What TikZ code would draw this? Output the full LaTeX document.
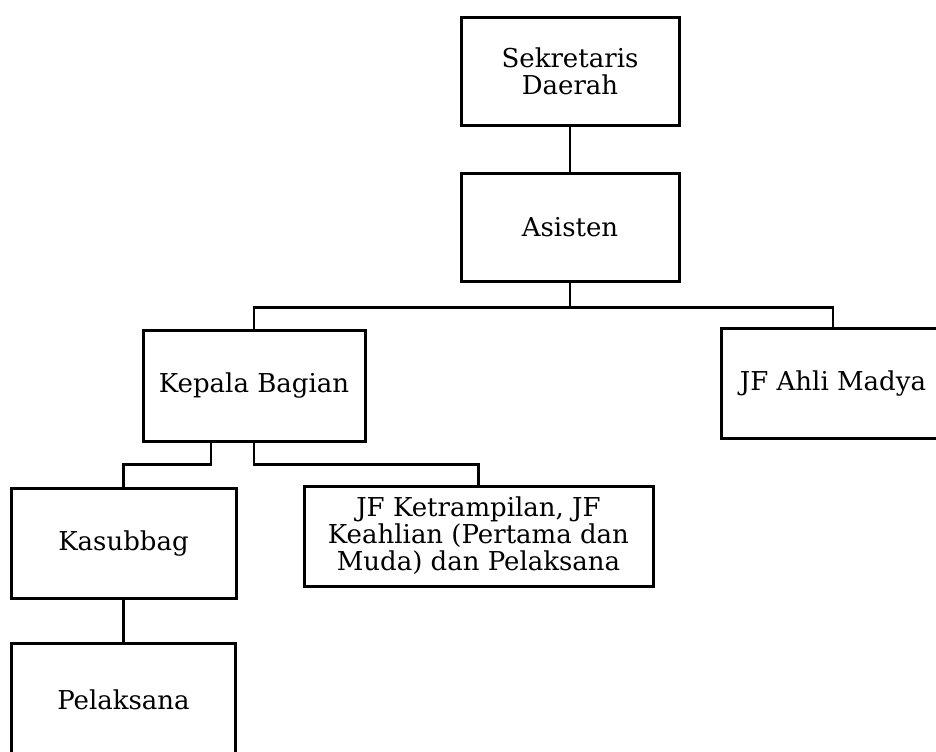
\documentclass[tikz,border=0pt]{standalone}
\usepackage{fontspec}
\setmainfont{DejaVu Serif}

\begin{document}
\begin{tikzpicture}[
    x=0.5pt, y=-0.5pt,
    box/.style={rectangle, draw=black, line width=1.5pt, align=center, inner sep=2pt, font=\fontsize{13}{13.5}\selectfont},
    link/.style={draw=black, line width=1.2pt}
]
\useasboundingbox (0,0) rectangle (936,751);

% Sekda and assistant
\node[box, minimum width=109pt, minimum height=54pt] (sekda) at (570,71) {Sekretaris\\Daerah};
\node[box, minimum width=109pt, minimum height=54pt] (asisten) at (570,227) {Asisten};

% Second level
\node[box, minimum width=111pt, minimum height=55.5pt] (kabag) at (254,385.5) {Kepala Bagian};
\node[box, minimum width=112pt, minimum height=55pt] (jfmadya) at (833,383) {JF Ahli Madya};

% Third level
\node[box, minimum width=112.5pt, minimum height=55pt] (kasubbag) at (123.5,543) {Kasubbag};
\node[box, minimum width=174.5pt, minimum height=50pt] (jfket) at (478.5,536) {JF Ketrampilan, JF\\Keahlian (Pertama dan\\Muda) dan Pelaksana};
\node[box, minimum width=112pt, minimum height=57pt] (pelaksana) at (123.5,700) {Pelaksana};

% Connectors
\draw[link] (sekda.south) -- (asisten.north);
\draw[link] (asisten.south) -- ++(0,25) -| (kabag.north);
\draw[link] (asisten.south) -- ++(0,25) -| (jfmadya.north);
\draw[link] ([xshift=-21.5pt]kabag.south) -- ++(0,22) -| (kasubbag.north);
\draw[link] (kabag.south) -- ++(0,22) -| (jfket.north);
\draw[link] (kasubbag.south) -- (pelaksana.north);

\end{tikzpicture}
\end{document}
